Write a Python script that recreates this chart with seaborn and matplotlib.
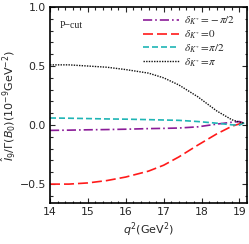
import numpy as np
import pandas as pd
import matplotlib
matplotlib.use("Agg")
import matplotlib.pyplot as plt
import seaborn as sns
from matplotlib.ticker import MultipleLocator

# ---- data ----
q2 = [14.0, 14.5, 15.0, 15.5, 16.0, 16.6, 17.0, 17.4, 17.9, 18.4, 18.8, 19.0, 19.13]
i9_m_pi2 = [-0.045, -0.043, -0.040, -0.038, -0.035, -0.030, -0.028, -0.025, -0.015, 0.008, 0.024, 0.030, 0.015]
i9_zero = [-0.50, -0.50, -0.49, -0.47, -0.44, -0.39, -0.34, -0.27, -0.17, -0.075, -0.01, 0.01, 0.02]
i9_p_pi2 = [0.060, 0.058, 0.055, 0.052, 0.050, 0.046, 0.043, 0.040, 0.030, 0.016, 0.002, 0.0, 0.02]
i9_pi = [0.51, 0.51, 0.50, 0.49, 0.47, 0.44, 0.40, 0.34, 0.24, 0.12, 0.045, 0.025, 0.015]

labels = [r"$\delta_{K^*}\!=\!-\pi/2$", r"$\delta_{K^*}\!=\!0$",
          r"$\delta_{K^*}\!=\!\pi/2$", r"$\delta_{K^*}\!=\!\pi$"]
series = [i9_m_pi2, i9_zero, i9_p_pi2, i9_pi]
colors = ["#8B1C98", "#FF1A1A", "#1FB5B5", "#111111"]
dash_styles = [(5.5, 1.8, 1.0, 1.8), (6.0, 2.4), (3.6, 1.8), (1.0, 0.9)]
widths = [1.2, 1.2, 1.2, 1.0]

df = pd.DataFrame({
    "q2": np.tile(q2, 4),
    "val": np.concatenate(series),
    "case": np.repeat(labels, len(q2)),
})

sns.set_style("ticks")
plt.rcParams["font.family"] = ["DejaVu Sans"]
plt.rcParams["mathtext.fontset"] = "dejavusans"

fig = plt.figure(figsize=(2.49, 2.44), dpi=100)
ax = fig.add_axes([50 / 249, 1 - 203 / 244, 197 / 249, 196 / 244])

for lab, col, ds, lw in zip(labels, colors, dash_styles, widths):
    sub = df[df["case"] == lab]
    sns.lineplot(data=sub, x="q2", y="val", color=col, ax=ax, label=lab,
                 linewidth=lw, sort=False)
    ax.lines[-1].set_dashes(ds)

ax.set_xlim(14, 19.2)
ax.set_ylim(-0.66, 1.0)
ax.xaxis.set_major_locator(MultipleLocator(1))
ax.xaxis.set_minor_locator(MultipleLocator(0.2))
ax.yaxis.set_major_locator(MultipleLocator(0.5))
ax.yaxis.set_minor_locator(MultipleLocator(0.1))
ax.tick_params(which="both", direction="in", top=True, right=True,
               labelsize=7.8, width=0.8, pad=3)
ax.tick_params(which="major", length=3.5)
ax.tick_params(which="minor", length=1.8)
ax.set_yticks([-0.5, 0.0, 0.5, 1.0])
ax.set_yticklabels(["\u22120.5", "0.0", "0.5", "1.0"])
for s in ax.spines.values():
    s.set_linewidth(1.2)
    s.set_color("black")

ax.set_xlabel(r"$q^2$(GeV$^2$)", fontsize=8, labelpad=2)
ax.set_ylabel(r"$\hat{I}_9/\Gamma(B_0)(10^{-9}$GeV$^{-2})$", fontsize=8, labelpad=2)

ptxt = ax.text(0.05, 0.905, "P\u2212cut", transform=ax.transAxes, fontsize=7,
               family="Liberation Serif", va="center", ha="left")

leg = ax.legend(loc="upper right", bbox_to_anchor=(0.975, 0.995), frameon=False,
                fontsize=8, handlelength=3.2, handletextpad=0.5,
                labelspacing=0.12, borderaxespad=0.2)
for t in leg.get_texts():
    t.set_family("Liberation Serif")
    t.set_math_fontfamily("stix")

fig.savefig("out.png", dpi=100)
